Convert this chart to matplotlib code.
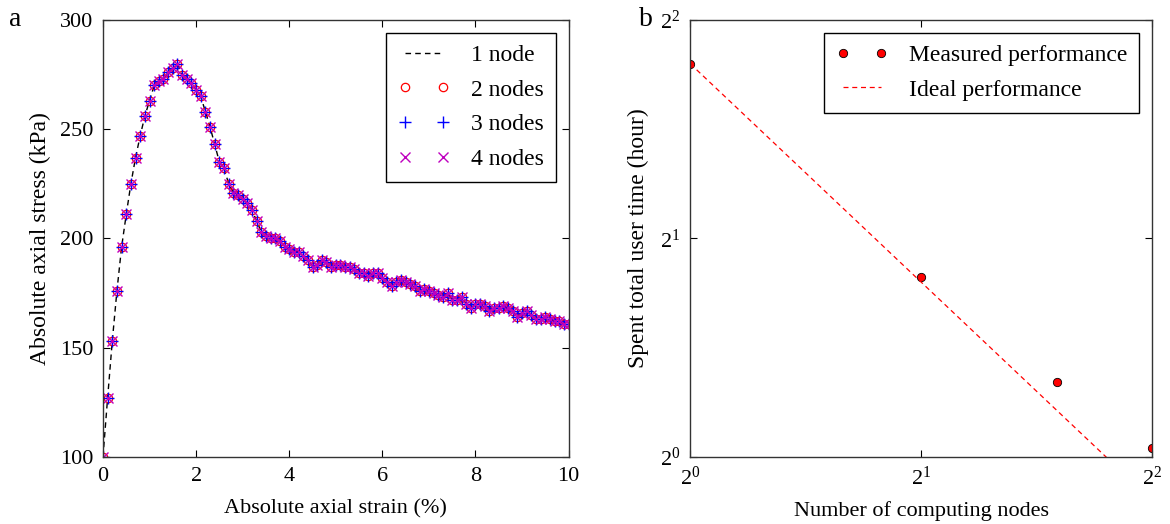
import numpy as np
import matplotlib
matplotlib.use("Agg")
import matplotlib.pyplot as plt
from matplotlib.ticker import FixedLocator, FixedFormatter, NullLocator

plt.rcParams["font.family"] = ["Liberation Serif", "DejaVu Serif"]
plt.rcParams["mathtext.fontset"] = "custom"
plt.rcParams["mathtext.rm"] = "Liberation Serif"
plt.rcParams["mathtext.it"] = "Liberation Serif"

# panel a: stress-strain response (same for every node count)
strain = np.round(np.arange(0, 10.01, 0.1), 2)
stress = [
    100, 127, 153, 176, 196, 211, 225, 237, 247, 256,
    263, 270, 272, 273, 276, 278, 280, 275, 273, 271,
    268, 265, 258, 251, 243, 235, 232, 225, 221, 220,
    218, 216, 213, 208, 203, 201, 200, 200, 199, 196,
    195, 194, 194, 192, 190, 187, 188, 190, 189, 187,
    188, 188, 187, 187, 186, 184, 184, 183, 184, 184,
    182, 180, 178, 180, 181, 180, 179, 178, 176, 177,
    176, 175, 174, 173, 175, 172, 172, 173, 170, 168,
    170, 170, 169, 167, 168, 168, 169, 168, 167, 164,
    166, 167, 165, 163, 163, 164, 163, 162, 162, 161,
    161,
]

# panel b: scaling
nodes = [1, 2, 3, 4]
hours = [3.48, 1.77, 1.27, 1.03]
ideal_nodes = [1, 4]
ideal_hours = [hours[0] / n for n in ideal_nodes]

fig = plt.figure(figsize=(11.7, 5.24), dpi=100)
ax1 = fig.add_axes([0.088, 0.128, 0.398, 0.834])
ax2 = fig.add_axes([0.590, 0.128, 0.395, 0.834])

legend_kw = dict(loc="upper right", numpoints=2, fontsize=17, fancybox=False,
                 edgecolor="black", framealpha=1, handlelength=2.2,
                 handletextpad=0.9, borderpad=0.5, labelspacing=0.55,
                 borderaxespad=0.55)

ax1.plot(strain, stress, "k--", lw=1, dashes=(4, 3), label="1 node")
ax1.plot(strain, stress, "o", ls="none", mfc="none", mec="red", ms=6, mew=0.9, label="2 nodes")
ax1.plot(strain, stress, "+", ls="none", color="blue", ms=9, mew=1.0, label="3 nodes")
ax1.plot(strain, stress, "x", ls="none", color="m", ms=6.5, mew=1.0, label="4 nodes")
ax1.set_xlim(0, 10)
ax1.set_ylim(100, 300)
ax1.set_xticks(range(0, 11, 2))
ax1.set_yticks(range(100, 301, 50))
ax1.set_xlabel("Absolute axial strain (%)", fontsize=16, labelpad=10)
ax1.set_ylabel("Absolute axial stress (kPa)", fontsize=17, labelpad=6)
leg1 = ax1.legend(**legend_kw)
leg1.get_frame().set_linewidth(1)

ax2.plot(nodes, hours, "o", ls="none", mfc="red", mec="black", ms=6, mew=0.6,
         label="Measured performance")
ax2.plot(ideal_nodes, ideal_hours, "--", color="red", lw=0.9, dashes=(4, 3),
         label="Ideal performance")
ax2.set_xscale("log", base=2)
ax2.set_yscale("log", base=2)
ax2.set_xlim(1, 4)
ax2.set_ylim(1, 4)
for axis in (ax2.xaxis, ax2.yaxis):
    axis.set_major_locator(FixedLocator([1, 2, 4]))
    axis.set_major_formatter(FixedFormatter(["$2^{0}$", "$2^{1}$", "$2^{2}$"]))
    axis.set_minor_locator(NullLocator())
ax2.set_xlabel("Number of computing nodes", fontsize=16, labelpad=8)
ax2.set_ylabel("Spent total user time (hour)", fontsize=17, labelpad=8)
leg2 = ax2.legend(**legend_kw)
leg2.get_frame().set_linewidth(1)

for ax in (ax1, ax2):
    ax.tick_params(direction="in", top=True, right=True, labelsize=16,
                   length=5, width=0.8, pad=7)
    for s in ax.spines.values():
        s.set_linewidth(1)
        s.set_color("#333333")

fig.text(0.008, 0.962, "a", fontsize=20, va="center")
fig.text(0.546, 0.962, "b", fontsize=20, va="center")

fig.savefig("out.png", dpi=100)
